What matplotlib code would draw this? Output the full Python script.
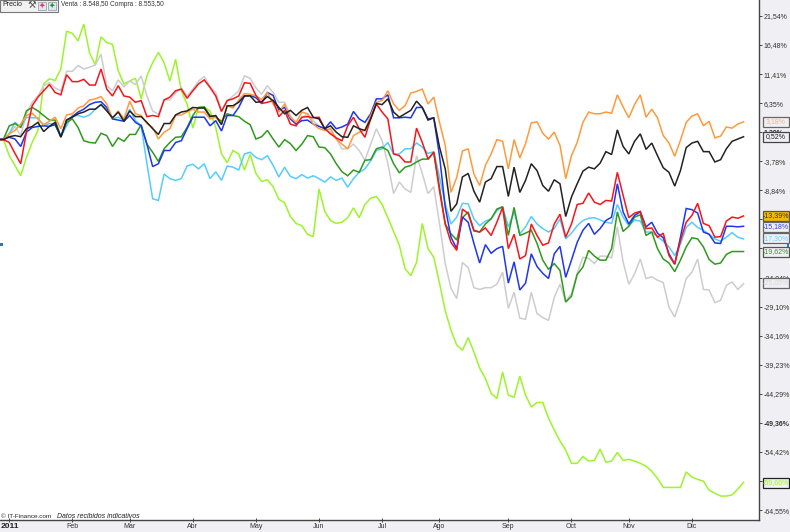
import numpy as np
import matplotlib.pyplot as plt
from matplotlib import font_manager
from matplotlib.patches import Rectangle

# the reference text is narrow, use the narrow cut when it is there
names = {f.name for f in font_manager.fontManager.ttflist}
NARROW = 'Liberation Sans Narrow' in names
plt.rcParams['font.family'] = ['Liberation Sans Narrow' if NARROW else 'Liberation Sans', 'DejaVu Sans']
FS = 5.9 if NARROW else 5.0

# percent change, one value per sample
lime = [0, 0, -2.8, -4.5, -6.3, -3.1, -0.5, 1.6, 9.7, 10.6, 10.3, 12.3, 18.9, 18.5, 17.2, 20.1, 15.1, 13.0, 17.9, 16.9,
        16.6, 12.0, 9.7, 10.2, 10.7, 7.1, 11.1, 13.4, 15.2, 13.4, 10.2, 14.0, 8.5, 6.2, 2.0, 5.6, 5.6, 5.0, 2.1, -2.5,
        -4.0, -1.9, -2.5, -5.3, -2.6, -5.9, -7.3, -7.0, -8.2, -10.4, -11.0, -13.4, -14.6, -15.0, -16.5, -16.9, -8.6, -12.5, -14.1, -14.6,
        -14.4, -13.6, -11.9, -13.6, -11.3, -10.2, -9.9, -11.3, -13.6, -16.0, -18.4, -22.5, -23.7, -21.4, -14.6, -19.0, -20.5, -25.0, -29.8, -33.2,
        -35.8, -36.7, -34.5, -37.0, -39.8, -41.6, -44.2, -45.1, -40.5, -44.5, -44.9, -41.2, -44.5, -46.6, -45.8, -45.8, -48.5, -50.6, -52.5, -54.1,
        -56.4, -56.4, -55.2, -56.0, -55.9, -53.9, -56.2, -56.0, -54.5, -55.9, -55.7, -56.0, -56.4, -56.9, -57.8, -59.0, -60.6, -60.6, -60.6, -60.6,
        -57.9, -58.8, -59.2, -59.5, -61.1, -61.6, -62.1, -62.1, -61.9, -60.9, -59.7]
gray = [0, 0.1, 0.9, 2.3, 0.7, 4.5, 6.5, 7.6, 9.4, 9.9, 9.0, 8.5, 11.9, 11.9, 12.9, 12.3, 12.6, 13.0, 14.9, 9.4,
        8.5, 10.4, 9.2, 10.2, 9.6, 11.1, 7.6, 5.0, 4.4, 7.0, 6.9, 8.2, 9.0, 7.6, 8.8, 10.2, 11.0, 9.2, 8.2, 5.0,
        6.8, 7.6, 8.5, 11.1, 10.7, 9.0, 7.9, 9.4, 8.2, 6.5, 6.5, 4.2, 2.7, 3.8, 4.5, 3.3, 2.4, 1.9, 1.3, 0.1,
        -1.6, -1.6, -0.8, -1.9, -3.6, -0.8, 1.9, -0.2, -4.2, -9.4, -7.4, -8.6, -9.2, -2.8, -5.9, -9.4, -8.2, -14.6, -21.6, -25.9,
        -27.7, -21.4, -22.3, -25.8, -26.1, -25.8, -25.8, -25.2, -23.1, -29.4, -26.6, -31.1, -31.3, -26.6, -30.3, -31.0, -31.5, -27.5, -25.2, -28.2,
        -26.8, -23.3, -20.5, -20.7, -21.6, -20.3, -20.3, -20.6, -15.2, -21.3, -25.2, -23.4, -20.8, -24.2, -23.9, -24.5, -24.9, -29.2, -30.9, -28.0,
        -24.2, -23.1, -20.8, -26.1, -26.2, -28.4, -28.0, -25.4, -24.8, -26.1, -25.1]
light_blue = [0, 0.1, 1.0, 3.0, 2.2, 3.9, 3.8, 3.8, 2.4, 2.8, 2.6, 0.5, 2.4, 4.2, 4.2, 3.9, 4.3, 5.3, 6.1, 5.3,
              3.6, 3.9, 3.4, 5.3, 3.3, 2.4, -4.2, -10.3, -10.6, -6.0, -6.8, -7.1, -6.8, -4.6, -4.3, -5.1, -4.2, -6.8, -5.6, -7.1,
              -4.6, -4.8, -5.3, -2.5, -2.2, -3.1, -3.5, -2.8, -4.5, -6.5, -4.8, -6.4, -6.8, -6.1, -6.7, -6.3, -6.8, -7.4, -6.5, -7.1,
              -6.7, -8.3, -6.8, -5.7, -5.1, -3.7, -1.9, -1.6, -0.5, -2.5, -2.5, -1.6, -1.6, -0.6, -1.3, -2.4, -2.1, -6.5, -11.2, -14.7,
              -13.5, -11.1, -11.2, -13.8, -15.0, -14.2, -13.8, -12.4, -11.7, -15.2, -12.6, -16.4, -15.2, -13.4, -14.7, -15.5, -16.1, -15.5, -13.8, -17.3,
              -16.3, -15.0, -14.1, -13.7, -13.6, -14.0, -14.4, -14.6, -11.3, -13.5, -15.0, -14.0, -14.2, -16.1, -16.1, -16.9, -17.7, -18.7, -20.2, -18.2,
              -15.3, -14.4, -15.3, -15.8, -16.5, -17.3, -17.7, -17.0, -16.2, -17.0, -17.3]
green = [0, 0.1, 2.4, 2.8, 2.1, 5.0, 5.6, 5.0, 4.2, 3.4, 3.4, 0.5, 3.0, 3.6, 2.1, -0.2, -0.5, -0.6, 1.1, 0.7,
         -1.2, 0.3, -0.3, 0.9, 0.9, 2.6, -0.8, -2.2, -3.8, -1.6, -0.5, 0.4, 0.5, 2.1, 4.2, 5.6, 5.7, 4.2, 3.9, 3.2,
         4.5, 4.2, 4.0, 3.2, 2.6, 0.1, 0.5, 1.6, 0.1, -1.3, 0.0, -0.7, -1.9, -0.8, 0.7, 0.5, -1.3, -1.4, -2.5, -4.2,
         -5.6, -6.3, -5.3, -5.7, -3.6, -3.5, -1.6, -1.3, -1.9, -4.2, -5.8, -4.8, -4.5, -3.9, -3.4, -3.4, -2.2, -8.3, -14.7, -16.4,
         -17.5, -13.6, -12.6, -15.8, -16.1, -14.7, -13.8, -12.1, -11.7, -16.7, -11.8, -16.7, -16.3, -15.8, -18.1, -21.0, -22.6, -21.6, -22.8, -28.3,
         -27.3, -23.5, -22.2, -19.3, -20.3, -21.0, -21.0, -19.0, -12.6, -16.0, -15.1, -13.5, -13.1, -16.7, -16.1, -19.0, -20.8, -21.5, -23.0, -21.0,
         -18.7, -17.1, -17.3, -18.7, -20.9, -21.7, -21.5, -20.0, -19.5, -19.5, -19.5]
blue = [0, 0.1, 0.4, 0.1, -1.2, 1.3, 2.1, 2.3, 2.4, 2.3, 2.6, 0.5, 3.4, 4.0, 4.8, 5.3, 6.1, 6.5, 6.6, 5.6,
        3.6, 3.4, 3.2, 4.2, 3.0, 2.4, -0.8, -4.7, -4.2, -1.9, -1.9, -0.5, -0.2, 1.9, 3.9, 3.9, 3.9, 2.4, 3.3, 1.5,
        4.2, 4.2, 5.6, 7.6, 7.7, 7.3, 6.3, 8.2, 7.7, 5.1, 5.6, 3.6, 2.7, 3.3, 3.4, 2.7, 2.3, 1.9, 3.1, 1.9,
        2.2, 2.7, 4.9, 3.6, 3.0, 4.5, 7.1, 7.1, 7.8, 3.8, 3.8, 3.9, 3.8, 5.6, 5.6, 3.6, 3.8, -2.8, -11.8, -17.0,
        -19.0, -13.5, -14.4, -18.1, -21.5, -18.3, -19.8, -19.0, -18.6, -25.0, -21.3, -26.2, -25.0, -19.9, -22.1, -23.3, -24.2, -19.9, -18.6, -24.0,
        -21.0, -17.9, -15.8, -14.6, -16.5, -15.5, -14.1, -13.5, -7.7, -12.6, -14.7, -13.2, -12.6, -15.2, -14.4, -16.3, -17.1, -19.9, -21.7, -17.0,
        -12.0, -12.2, -12.8, -16.1, -16.5, -18.0, -18.1, -15.1, -15.1, -15.2, -15.1]
orange = [0, 0, 1.0, 1.6, 2.7, 4.2, 4.6, 3.6, 2.6, 3.2, 3.9, 1.9, 4.3, 4.5, 5.5, 5.9, 6.9, 7.1, 7.5, 6.2,
          3.7, 5.0, 3.6, 6.7, 4.5, 4.2, 2.8, 2.1, 0.1, 1.3, 1.9, 4.2, 4.3, 4.8, 5.3, 4.8, 4.8, 3.6, 3.9, 2.7,
          5.9, 5.5, 6.9, 8.0, 7.9, 7.6, 7.0, 8.2, 6.2, 4.8, 6.2, 3.9, 3.0, 4.8, 4.5, 2.7, 1.9, 1.6, 1.9, 0.1,
          -0.8, -1.6, 0.7, 1.3, 1.6, 4.2, 6.5, 6.8, 8.5, 6.2, 5.1, 5.9, 8.1, 8.4, 8.8, 6.2, 7.4, 3.0, -1.0, -9.2,
          -6.6, -2.0, -1.6, -6.0, -8.0, -4.5, -2.5, 0.0, -0.3, -5.1, 0.0, -3.2, -0.7, 2.9, 3.1, 1.1, 0.1, 1.3, -1.0, -6.8,
          -2.8, -0.5, 3.0, 4.8, 4.5, 4.5, 4.8, 4.6, 7.8, 5.7, 3.8, 6.1, 7.8, 3.9, 5.3, 3.8, 0.7, -0.6, -2.9, -0.1,
          3.0, 4.1, 4.5, 2.4, 3.2, 0.3, 0.6, 2.2, 2.0, 2.7, 3.1]
red = [0, 0, -0.5, -2.4, -4.2, 1.3, 5.9, 7.4, 8.5, 9.6, 8.2, 7.8, 11.3, 10.1, 10.1, 10.5, 9.5, 9.5, 12.3, 8.8,
       7.6, 9.4, 7.6, 7.4, 6.5, 6.8, 4.0, 4.2, 4.0, 6.9, 7.4, 8.5, 8.8, 7.2, 8.5, 9.7, 10.4, 9.1, 7.6, 4.9,
       6.8, 7.1, 7.6, 9.9, 9.8, 7.7, 6.3, 6.5, 6.8, 4.0, 5.1, 2.7, 2.4, 3.9, 4.0, 3.8, 3.9, 1.9, 1.0, 0.3,
       -0.2, 2.4, 3.9, 1.9, 0.4, 3.6, 6.2, 4.8, 3.6, -2.5, -2.8, -3.9, -3.9, 2.0, -0.5, -3.4, -2.2, -8.9, -14.7, -17.9,
       -19.3, -12.1, -12.9, -15.9, -16.1, -15.4, -16.7, -14.4, -11.8, -19.0, -16.5, -20.8, -20.2, -14.7, -16.7, -18.4, -18.0, -14.7, -13.0, -17.0,
       -14.7, -11.3, -11.1, -9.3, -10.9, -11.3, -10.6, -10.7, -5.7, -9.7, -13.6, -12.8, -12.5, -15.5, -15.4, -17.0, -16.3, -20.2, -21.7, -17.6,
       -14.4, -13.2, -11.1, -14.6, -15.0, -17.0, -16.9, -14.2, -13.5, -13.7, -13.3]
black = [0, 0, 0.5, 0.7, 0.5, 1.9, 2.3, 3.0, 1.4, 2.3, 3.0, 0.4, 3.4, 3.9, 4.5, 4.8, 5.3, 5.3, 6.1, 5.0,
         3.8, 4.8, 3.2, 5.0, 4.0, 4.0, 3.0, 1.9, 0.9, 2.8, 2.8, 4.3, 4.8, 5.0, 5.6, 5.5, 5.5, 4.0, 4.2, 2.6,
         5.9, 5.9, 6.5, 7.6, 7.6, 6.5, 6.6, 7.5, 6.8, 5.6, 4.5, 5.1, 4.2, 5.1, 5.6, 3.9, 3.6, 1.9, 2.4, 1.3,
         0.5, 0.4, 2.4, 1.9, 1.6, 3.6, 6.3, 6.1, 7.1, 4.8, 3.9, 4.5, 5.1, 6.7, 5.6, 3.4, 3.8, -1.3, -5.1, -12.5,
         -11.2, -6.5, -5.9, -9.0, -10.9, -7.4, -6.8, -4.7, -4.7, -9.9, -4.8, -9.2, -7.1, -4.2, -5.4, -8.0, -9.0, -7.0, -7.7, -13.4,
         -10.0, -7.7, -5.5, -4.8, -5.1, -4.1, -2.1, -2.6, 1.7, -1.2, -2.5, -0.3, 1.0, -1.7, -0.6, -2.8, -4.9, -5.7, -8.1, -5.4,
         -1.4, -0.6, -0.3, -2.1, -2.1, -3.9, -3.5, -1.6, -0.3, 0.1, 0.5]

ytick_values = [21.54, 16.48, 11.41, 6.35, 1.29, -3.78, -8.84, -13.90, -18.97, -24.04, -29.10, -34.16, -39.23, -44.29,
                -49.36, -54.42, -59.49, -64.55]
month_labels = ['', 'Feb', 'Mar', 'Abr', 'May', 'Jun', 'Jul', 'Ago', 'Sep', 'Oct', 'Nov', 'Dic']
month_ticks = [2, 13, 23, 34, 45, 56, 67, 77, 89, 100, 110, 121]

W, H = 790, 532
PANEL = '#f0f0f4'


def px(x, y):
    return x / W, 1 - y / H


fig = plt.figure(figsize=(7.9, 5.32), dpi=100, facecolor=PANEL)
ax = fig.add_axes([0, 12 / H, 759 / W, 520 / H], facecolor='white')

series = [(lime, '#9cf52a'), (gray, '#cdcdcd'), (light_blue, '#55ccff'), (green, '#2f9a1c'),
          (blue, '#1f35f0'), (orange, '#ff9a3c'), (red, '#f5161c'), (black, '#222222')]
for vals, col in series:
    ax.plot(np.arange(len(vals)), vals, color=col, lw=1.1, solid_joinstyle='miter')

# one sample is 5.737 px, zero line sits at y=139.6, 5.74 px per percent
ax.set_xlim(2.25 / 5.737, (759 + 2.25) / 5.737)
ax.set_ylim(-380.4 / 5.74, 139.6 / 5.74)
for s in ['top', 'left']:
    ax.spines[s].set_visible(False)
for s in ['right', 'bottom']:
    ax.spines[s].set_color('#444444')
    ax.spines[s].set_linewidth(1.0)

ax.yaxis.tick_right()
ax.set_yticks(ytick_values)
ax.set_yticklabels([f'{v:.2f}%'.replace('.', ',') for v in ytick_values], fontsize=FS, color='#333333')
ax.tick_params(axis='y', length=2, width=0.7, color='#444444', pad=1.5)
for lab, v in zip(ax.get_yticklabels(), ytick_values):
    if v in (1.29, -49.36):
        lab.set_fontweight('bold')

ax.set_xticks(month_ticks)
ax.set_xticklabels(month_labels, fontsize=FS, color='#333333')
ax.tick_params(axis='x', direction='inout', length=3, width=0.7, color='#444444', pad=1)

# last value boxes on the right
boxes = [('3,18%', 121.7, PANEL, '#ffb27a', '#666666'),
         ('0,52%', 137, PANEL, '#222222', '#444444'),
         ('-13,39%', 216, '#f5b800', '#333333', '#555555'),
         ('-15,18%', 227, PANEL, '#2a3cf0', '#666666'),
         ('-17,30%', 238.5, PANEL, '#6fd0ff', '#666666'),
         ('-19,62%', 252, PANEL, '#2f9a1c', '#555555'),
         ('-25,05%', 283, PANEL, '#d8d8d8', '#666666'),
         ('-59,66%', 483, PANEL, '#9cf52a', '#222222')]
for txt, yc, fc, tc, ec in boxes:
    x0, y0 = px(762.5, yc + 5)
    fig.add_artist(Rectangle((x0, y0), 26 / W, 10 / H, transform=fig.transFigure, facecolor=fc, edgecolor=ec, lw=0.9, zorder=5))
    xt, yt = px(775.5, yc)
    fig.text(xt, yt, txt, color=tc, fontsize=FS, ha='center', va='center', zorder=6)

# toolbar at the top left
x0, y0 = px(0, 11.5)
fig.add_artist(Rectangle((x0, y0), 58 / W, 11.5 / H, transform=fig.transFigure, facecolor='#f2f2f2', edgecolor='#777777', lw=0.8, zorder=5))
xt, yt = px(2, 5)
fig.text(xt, yt, 'Precio', fontsize=FS, color='#222222', va='center', zorder=6)
for ix, c in [(41.5, '#e83a50'), (51.5, '#1f9a2a')]:
    x0, y0 = px(ix - 4, 9.5)
    fig.add_artist(Rectangle((x0, y0), 8 / W, 8 / H, transform=fig.transFigure, facecolor='#dfe6f2', edgecolor='#9aa4b8', lw=0.6, zorder=6))
    xm, ym = px(ix, 5.5)
    fig.text(xm, ym, '✦', fontsize=5.5, color=c, ha='center', va='center', zorder=7, family='DejaVu Sans')
xt, yt = px(31.5, 5)
fig.text(xt, yt, '⚒', fontsize=7, color='#555555', ha='center', va='center', zorder=6, family='DejaVu Sans')
xt, yt = px(61, 5)
fig.text(xt, yt, 'Venta : 8.548,50 Compra : 8.553,50', fontsize=FS - 0.3, color='#333333', va='center')

# footer text
xt, yt = px(1, 516)
fig.text(xt, yt, '© IT-Finance.com', fontsize=FS - 0.4, color='#222222', va='center')
xt, yt = px(57, 516)
fig.text(xt, yt, 'Datos recibidos indicativos', fontsize=FS, style='italic', color='#222222', va='center')
xt, yt = px(0.5, 527)
fig.text(xt, yt, '2011', fontsize=FS + 1, fontweight='bold', color='#222222', va='center')

# thin blue dotted border on the far right, small scale markers
fig.add_artist(plt.Line2D([789.5 / W] * 2, [0, 1], color='#7fa6d8', lw=0.6, ls=':'))
for bx, by in [(0, 243), (786.5, 244)]:
    x0, y0 = px(bx, by + 3)
    fig.add_artist(Rectangle((x0, y0), 2.5 / W, 3 / H, transform=fig.transFigure, facecolor='#3a6fc0', edgecolor='none', zorder=7))

fig.savefig('out.png', dpi=100)
